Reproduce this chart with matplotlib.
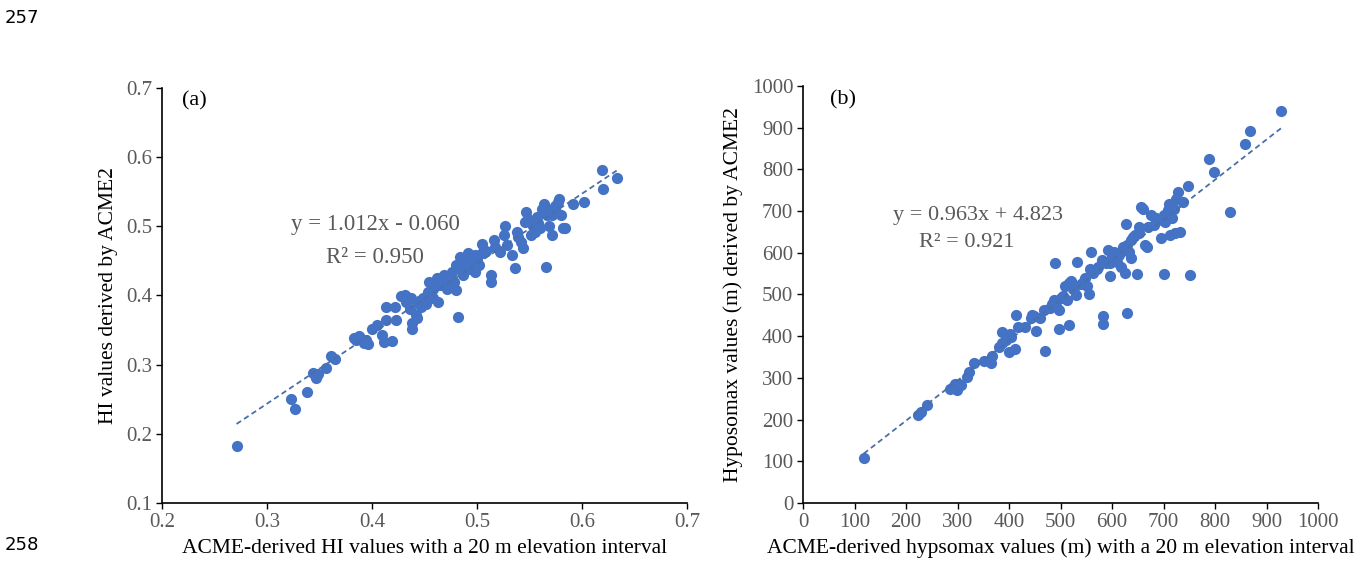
import matplotlib
matplotlib.use('Agg')
import matplotlib.pyplot as plt
import numpy as np

# panel (a): HI values
hi_x = [0.271, 0.323, 0.327, 0.338, 0.344, 0.347, 0.349, 0.356, 0.361, 0.365,
        0.385, 0.389, 0.392, 0.396, 0.388, 0.400, 0.405, 0.410, 0.411, 0.413,
        0.413, 0.419, 0.422, 0.423, 0.431, 0.432, 0.437, 0.438, 0.438, 0.442,
        0.443, 0.443, 0.447, 0.449, 0.451, 0.453, 0.454, 0.458, 0.462, 0.463,
        0.465, 0.469, 0.473, 0.476, 0.480, 0.480, 0.482, 0.484, 0.485, 0.489,
        0.491, 0.493, 0.496, 0.498, 0.502, 0.505, 0.505, 0.509, 0.513, 0.513,
        0.516, 0.522, 0.526, 0.529, 0.533, 0.536, 0.538, 0.542, 0.544, 0.546,
        0.547, 0.551, 0.553, 0.557, 0.560, 0.562, 0.564, 0.566, 0.567, 0.571,
        0.573, 0.577, 0.578, 0.580, 0.582, 0.584, 0.591, 0.602, 0.619, 0.620,
        0.633, 0.458, 0.471, 0.478, 0.487, 0.491, 0.498, 0.527, 0.549, 0.571,
        0.575, 0.569, 0.445, 0.455, 0.467, 0.500, 0.517, 0.558, 0.383, 0.394,
        0.428, 0.436, 0.460, 0.474, 0.486, 0.495, 0.539, 0.555, 0.565, 0.574]
hi_y = [0.182, 0.250, 0.236, 0.261, 0.288, 0.280, 0.286, 0.295, 0.313, 0.308,
        0.336, 0.339, 0.332, 0.330, 0.342, 0.352, 0.357, 0.343, 0.333, 0.384,
        0.364, 0.334, 0.384, 0.364, 0.400, 0.391, 0.396, 0.360, 0.351, 0.372,
        0.367, 0.391, 0.384, 0.396, 0.388, 0.405, 0.420, 0.410, 0.425, 0.391,
        0.415, 0.429, 0.420, 0.434, 0.444, 0.408, 0.369, 0.456, 0.437, 0.449,
        0.461, 0.439, 0.451, 0.434, 0.444, 0.461, 0.475, 0.465, 0.429, 0.420,
        0.480, 0.463, 0.487, 0.473, 0.458, 0.440, 0.492, 0.477, 0.468, 0.506,
        0.521, 0.487, 0.501, 0.513, 0.497, 0.525, 0.533, 0.441, 0.516, 0.487,
        0.525, 0.535, 0.540, 0.516, 0.497, 0.498, 0.533, 0.535, 0.581, 0.554,
        0.570, 0.396, 0.410, 0.420, 0.429, 0.449, 0.458, 0.501, 0.511, 0.516,
        0.521, 0.501, 0.392, 0.402, 0.418, 0.452, 0.470, 0.505, 0.338, 0.335,
        0.399, 0.380, 0.416, 0.428, 0.447, 0.455, 0.485, 0.492, 0.527, 0.530]

# panel (b): hypsomax values (m)
hm_x = [118, 224, 229, 241, 285, 291, 299, 303, 307, 319, 323, 333, 351, 365,
        367, 381, 387, 395, 400, 402, 404, 412, 413, 418, 432, 442, 448, 452,
        460, 468, 470, 480, 488, 490, 492, 498, 498, 504, 508, 512, 516, 520,
        524, 531, 532, 540, 548, 552, 556, 558, 560, 564, 572, 580, 582, 582,
        588, 592, 596, 600, 604, 609, 617, 621, 625, 627, 629, 633, 637, 637,
        645, 649, 653, 657, 661, 665, 667, 675, 681, 689, 695, 701, 703, 709,
        710, 713, 717, 723, 725, 729, 733, 737, 747, 751, 788, 799, 830, 858,
        868, 928, 596, 613, 629, 641, 669, 685, 444, 516, 387, 396, 295, 484,
        500, 527, 545, 570, 605, 652, 700, 720]
hm_y = [107, 210, 218, 234, 274, 278, 270, 286, 282, 302, 313, 336, 341, 336,
        353, 373, 383, 391, 361, 405, 397, 369, 452, 421, 421, 444, 448, 413,
        444, 464, 365, 468, 488, 575, 472, 464, 417, 496, 520, 488, 426, 532,
        512, 498, 577, 524, 540, 521, 500, 560, 603, 552, 567, 583, 448, 429,
        575, 607, 544, 591, 603, 579, 567, 615, 552, 669, 456, 603, 631, 587,
        643, 550, 663, 710, 706, 619, 615, 690, 667, 679, 635, 548, 675, 702,
        718, 643, 683, 647, 730, 746, 651, 722, 760, 546, 825, 794, 698, 861,
        891, 939, 575, 595, 619, 639, 663, 683, 452, 528, 409, 401, 285, 478,
        492, 515, 533, 562, 596, 647, 690, 705]

fit_a = (1.012, -0.060)
fit_b = (0.963, 4.823)

dot = '#4472C4'
grey = '#595959'
serif = ['Liberation Serif', 'DejaVu Serif']

plt.rcParams['font.family'] = serif

fig = plt.figure(figsize=(13.57, 5.64), dpi=100)
ax1 = fig.add_axes([162/1357, 61/564, 525/1357, 415/564])
ax2 = fig.add_axes([803/1357, 61/564, 515/1357, 417/564])


def style(ax):
    for s in ['top', 'right']:
        ax.spines[s].set_visible(False)
    for s in ['left', 'bottom']:
        ax.spines[s].set_linewidth(1.2)
        ax.spines[s].set_color('black')
    ax.tick_params(direction='out', length=4, width=1.0, color='black',
                   labelcolor=grey, labelsize=15, pad=3)


# (a)
ax1.scatter(hi_x, hi_y, s=65, color=dot, zorder=3, linewidths=0)
xa = np.array([min(hi_x), max(hi_x)])
ax1.plot(xa, fit_a[0] * xa + fit_a[1], ls=(0, (3, 2)), color='#4a6fa8', lw=1.3, zorder=4)
ax1.set_xlim(0.2, 0.7)
ax1.set_ylim(0.1, 0.7)
ax1.set_xticks(np.arange(0.2, 0.71, 0.1))
ax1.set_yticks(np.arange(0.1, 0.71, 0.1))
ax1.xaxis.set_major_formatter(matplotlib.ticker.FormatStrFormatter('%.1f'))
ax1.yaxis.set_major_formatter(matplotlib.ticker.FormatStrFormatter('%.1f'))
style(ax1)
ax1.set_xlabel('ACME-derived HI values with a 20 m elevation interval', fontsize=15.5, labelpad=5)
ax1.set_ylabel('HI values derived by ACME2', fontsize=15.5, labelpad=6)
ax1.text(0.403, 0.502, 'y = 1.012x - 0.060', ha='center', va='center', fontsize=16.5, color=grey)
ax1.text(0.403, 0.455, 'R² = 0.950', ha='center', va='center', fontsize=16.5, color=grey)
ax1.text(0.061, 0.97, '(a)', transform=ax1.transAxes, ha='center', va='center', fontsize=16)

# (b)
ax2.scatter(hm_x, hm_y, s=65, color=dot, zorder=3, linewidths=0)
xb = np.array([min(hm_x), max(hm_x)])
ax2.plot(xb, fit_b[0] * xb + fit_b[1], ls=(0, (3, 2)), color='#4a6fa8', lw=1.3, zorder=4)
ax2.set_xlim(0, 1000)
ax2.set_ylim(0, 1000)
ax2.set_xticks(range(0, 1001, 100))
ax2.set_yticks(range(0, 1001, 100))
style(ax2)
ax2.set_xlabel('ACME-derived hypsomax values (m) with a 20 m elevation interval', fontsize=15.5, labelpad=5)
ax2.set_ylabel('Hyposomax values (m) derived by ACME2', fontsize=15.5, labelpad=6)
ax2.text(339, 690, 'y = 0.963x + 4.823', ha='center', va='center', fontsize=16, color=grey)
ax2.text(317, 625, 'R² = 0.921', ha='center', va='center', fontsize=16, color=grey)
ax2.text(0.078, 0.966, '(b)', transform=ax2.transAxes, ha='center', va='center', fontsize=16)

# manuscript line numbers
fig.text(5/1357, 1 - 18/564, '257', ha='left', va='center', fontsize=13, family='DejaVu Sans')
fig.text(5/1357, 1 - 545/564, '258', ha='left', va='center', fontsize=13, family='DejaVu Sans')

fig.savefig('out.png', dpi=100)
